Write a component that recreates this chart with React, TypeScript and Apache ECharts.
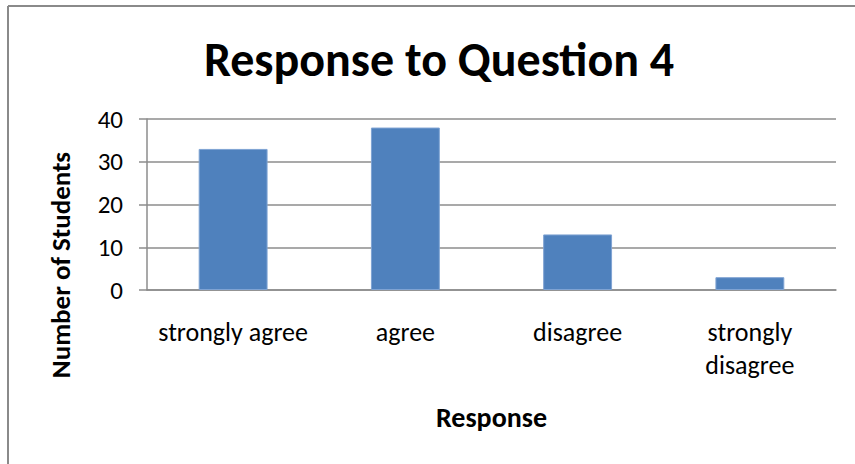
import React, { useEffect, useRef } from "react";
import * as echarts from "echarts";

const categories = ["strongly agree", "agree", "disagree", "strongly disagree"];
const studentCounts = [33, 38, 13, 3];
const yTicks = { min: 0, max: 40, interval: 10 };
const titleText = "Response to Question 4";
const xAxisTitle = "Response";
const yAxisTitle = "Number of Students";

const FONT = "Carlito, Lato, 'Open Sans', sans-serif";

export default function App() {
  const ref = useRef<HTMLDivElement>(null);
  useEffect(() => {
    document.body.style.margin = "0";
    const chart = echarts.init(ref.current!, null, { renderer: "svg" });
    chart.setOption({
      animation: false,
      backgroundColor: "#ffffff",
      title: {
        text: titleText,
        left: 434,
        top: 30,
        textAlign: "center",
        textStyle: { fontFamily: FONT, fontWeight: "bold", fontSize: 48, color: "#000" },
      },
      graphic: [
        { type: "line", shape: { x1: 8, y1: 6, x2: 855, y2: 6 }, style: { stroke: "#8a8a8a", lineWidth: 2 } },
        { type: "line", shape: { x1: 8, y1: 6, x2: 8, y2: 464 }, style: { stroke: "#8a8a8a", lineWidth: 2 } },
        {
          type: "text",
          x: 60,
          y: 265,
          rotation: Math.PI / 2,
          style: {
            text: yAxisTitle,
            fontFamily: FONT,
            fontWeight: "bold",
            fontSize: 27,
            fill: "#000",
            align: "center",
            verticalAlign: "middle",
          },
        },
      ],
      grid: { left: 147, right: 19, top: 119, bottom: 174, containLabel: false },
      xAxis: {
        type: "category",
        data: categories,
        name: xAxisTitle,
        nameLocation: "middle",
        nameGap: 113,
        nameTextStyle: { fontFamily: FONT, fontWeight: "bold", fontSize: 28, color: "#000" },
        axisLine: { lineStyle: { color: "#8c8c8c", width: 1.5 } },
        axisTick: { show: false },
        axisLabel: {
          fontFamily: FONT,
          fontSize: 26,
          color: "#000",
          margin: 25,
          lineHeight: 33,
          verticalAlign: "top",
          interval: 0,
          formatter: (v: string) => (v === "strongly disagree" ? "strongly\ndisagree" : v),
        },
      },
      yAxis: {
        type: "value",
        min: yTicks.min,
        max: yTicks.max,
        interval: yTicks.interval,
        axisLine: { show: true, lineStyle: { color: "#8c8c8c", width: 1.5 } },
        axisTick: { show: true, length: 8, lineStyle: { color: "#8c8c8c", width: 1.5 } },
        splitLine: { lineStyle: { color: "#8c8c8c", width: 1.5 } },
        axisLabel: { fontFamily: FONT, fontSize: 25, color: "#000", margin: 24 },
      },
      series: [
        {
          type: "bar",
          data: studentCounts,
          barWidth: "40%",
          itemStyle: { color: "#4f81bd", borderColor: "#7fa3d3", borderWidth: 1 },
        },
      ],
    });
    return () => chart.dispose();
  }, []);
  return <div ref={ref} style={{ position: "fixed", left: 0, top: 0, width: 855, height: 464 }} />;
}
